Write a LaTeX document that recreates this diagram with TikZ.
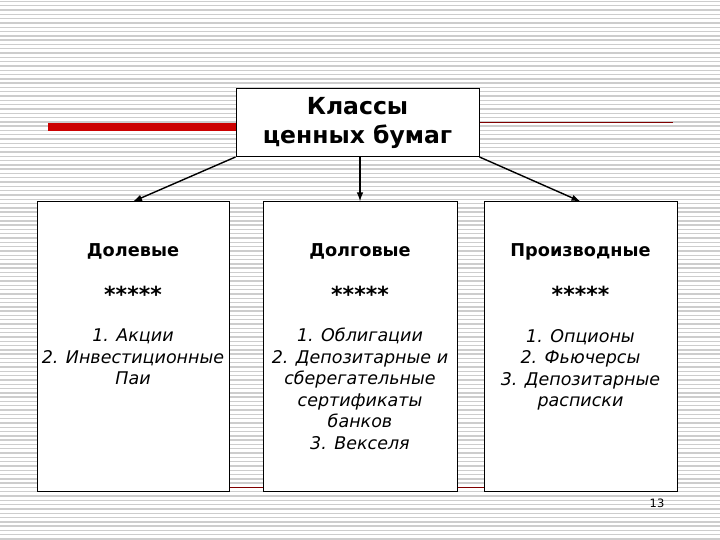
\documentclass[tikz,border=0pt]{standalone}
\usepackage{fontspec}
\setmainfont{DejaVu Sans}
\usetikzlibrary{calc}
\usetikzlibrary{arrows.meta}
\tikzset{
  stripe/.style = {color=#1, line width=1.4pt},
  redbar/.style = {color=#1, line width=8pt},
  rule/.style = {color=#1, line width=1pt},
  box/.style = {draw=black, fill=white, line width=1pt, inner sep=0pt},
  vec/.style = {color=#1, line width=1.4pt, -{Latex[length=9pt,width=6.5pt]}},
  title/.style = {align=center, font=\fontsize{23.5}{29}\selectfont\bfseries},
  head/.style = {anchor=base, inner sep=0pt, font=\fontsize{17.7}{21.5}\selectfont\bfseries},
  stars/.style = {anchor=base, inner sep=0pt, font=\fontsize{22}{26}\selectfont\bfseries},
  item/.style = {anchor=base, inner sep=0pt, align=center, font=\fontsize{17.5}{21.5}\selectfont\itshape}
}
\definecolor{stripegray}{RGB}{205,205,205}
\definecolor{barred}{RGB}{204,0,0}
\definecolor{darkred}{RGB}{128,0,0}

\begin{document}
\begin{tikzpicture}[x=1pt,y=-1pt]

    % Background
    \useasboundingbox (0,0) rectangle (720,540);
    \fill[white] (0,0) rectangle (720,540);
    \foreach \y in {1.5,5.8,...,540}
      \draw[stripe={stripegray}] (0,\y) -- (720,\y);

    % Boxes
    \node[box, minimum width=243pt, minimum height=68pt, title] (cls) at (357.5,122.5) {Классы\\ценных бумаг};
    \node[box, minimum width=192pt, minimum height=289pt] (dol) at (133,346.5) {};
    \node[box, minimum width=194pt, minimum height=289pt] (dolg) at (360,346.5) {};
    \node[box, minimum width=193pt, minimum height=289pt] (proiz) at (580.5,346.5) {};

    % Decorative lines
    \draw[redbar={barred}] (48,127) -- (cls.west |- 0,127);
    \draw[rule={darkred}] (cls.east |- 0,123) -- (673,123);
    \draw[rule={darkred}] (dol.east |- 0,487) -- (dolg.west |- 0,487);
    \draw[rule={darkred}] (dolg.east |- 0,487) -- (proiz.west |- 0,487);

    % Arrows
    \draw[vec={black}] (cls.south west) -- (dol.north);
    \draw[vec={black}] (cls.south -| dolg.north) -- (dolg.north);
    \draw[vec={black}] (cls.south east) -- (proiz.north);

    % Texts (base = last line)
    \node[head] (dolH) at ($(dol.north)+(0,55)$) {Долевые};
    \node[stars] (dolS) at ($(dol.north)+(0,101)$) {*****};
    \node[item] (dolI) at ($(dol.north)+(0,183)$) {1. Акции\\2. Инвестиционные\\Паи};

    \node[head] (dolgH) at ($(dolg.north)+(0,55)$) {Долговые};
    \node[stars] (dolgS) at ($(dolg.north)+(0,101)$) {*****};
    \node[item] (dolgI) at ($(dolg.north)+(0,247.5)$) {1. Облигации\\2. Депозитарные и\\сберегательные\\сертификаты\\банков\\3. Векселя};

    \node[head] (proizH) at ($(proiz.north)+(0,55)$) {Производные};
    \node[stars] (proizS) at ($(proiz.north)+(0,101)$) {*****};
    \node[item] (proizI) at ($(proiz.north)+(0,205)$) {1. Опционы\\2. Фьючерсы\\3. Депозитарные\\расписки};

    % Page number
    \node[font=\fontsize{11.5}{13}\selectfont, inner sep=0pt] (page) at (657,503) {13};

\end{tikzpicture}
\end{document}
